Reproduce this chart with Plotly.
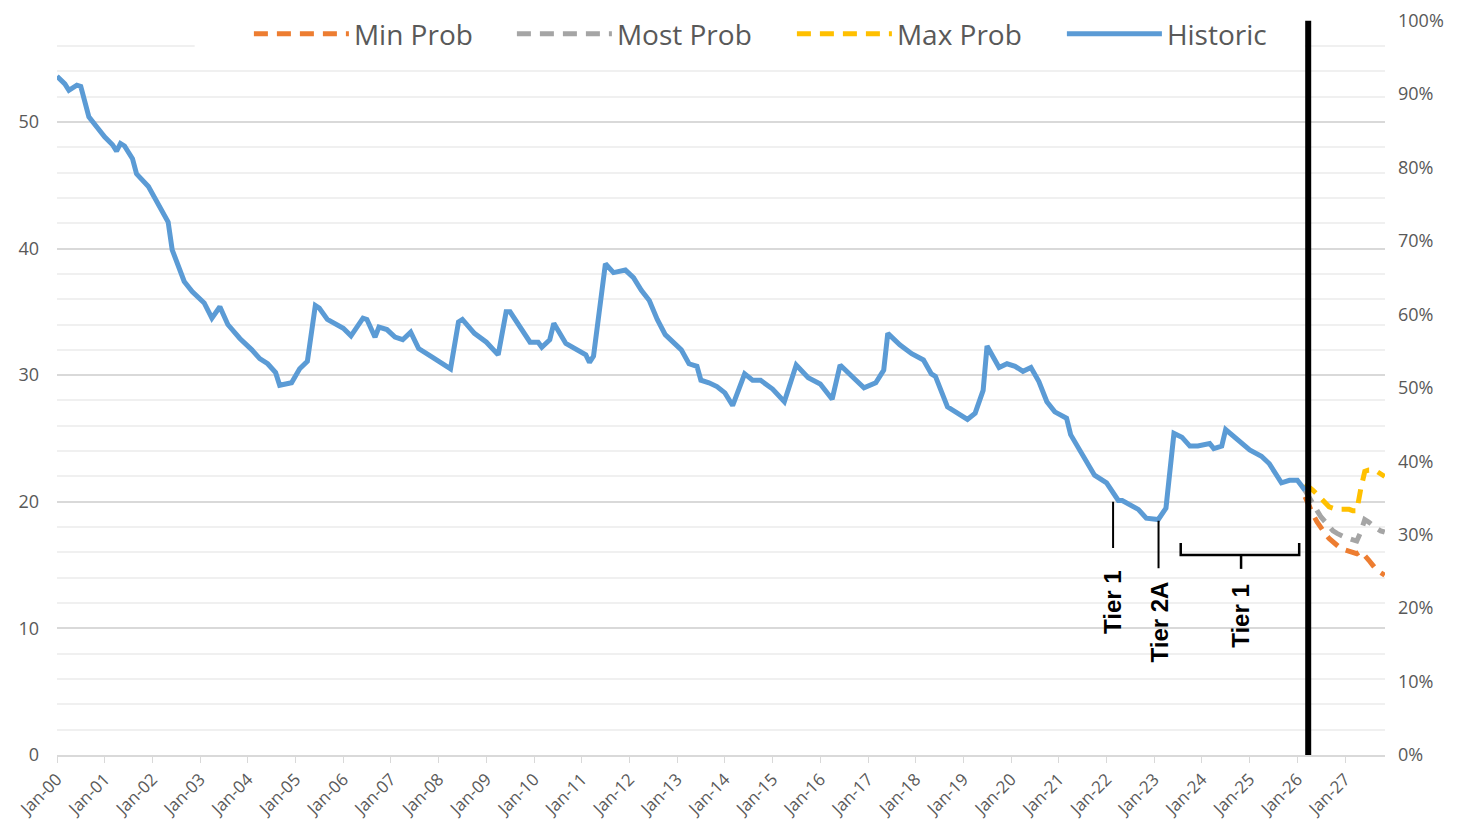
import plotly.graph_objects as go

# ---------------- data ----------------
hist_dates = [
    "2000-01", "2000-03", "2000-04", "2000-06", "2000-07", "2000-08", "2000-09", "2000-11",
    "2001-01", "2001-03", "2001-04", "2001-05", "2001-06", "2001-08", "2001-09", "2001-12",
    "2002-02", "2002-05", "2002-06", "2002-09", "2002-11",
    "2003-02", "2003-04", "2003-06", "2003-08", "2003-11",
    "2004-02", "2004-04", "2004-06", "2004-08", "2004-09", "2004-12",
    "2005-02", "2005-04", "2005-06", "2005-07", "2005-09", "2005-11",
    "2006-01", "2006-03", "2006-06", "2006-07", "2006-09", "2006-10", "2006-12",
    "2007-02", "2007-04", "2007-06", "2007-08", "2007-11",
    "2008-01", "2008-04", "2008-06", "2008-07", "2008-10",
    "2009-01", "2009-04", "2009-06", "2009-07", "2009-09", "2009-12",
    "2010-02", "2010-03", "2010-05", "2010-06", "2010-09", "2010-12",
    "2011-02", "2011-03", "2011-04", "2011-07", "2011-09", "2011-12",
    "2012-02", "2012-04", "2012-06", "2012-08", "2012-10",
    "2013-02", "2013-04", "2013-06", "2013-07", "2013-09", "2013-11",
    "2014-01", "2014-03", "2014-06", "2014-08", "2014-10",
    "2015-01", "2015-04", "2015-07", "2015-10",
    "2016-01", "2016-04", "2016-06", "2016-10", "2016-12",
    "2017-03", "2017-05", "2017-06", "2017-09", "2017-12",
    "2018-03", "2018-05", "2018-06", "2018-09", "2018-12",
    "2019-02", "2019-04", "2019-06", "2019-07", "2019-08", "2019-10", "2019-12",
    "2020-02", "2020-04", "2020-06", "2020-08", "2020-10", "2020-12",
    "2021-03", "2021-04", "2021-07", "2021-10",
    "2022-01", "2022-04", "2022-05", "2022-09", "2022-11",
    "2023-02", "2023-04", "2023-06", "2023-08", "2023-10", "2023-12",
    "2024-03", "2024-04", "2024-06", "2024-07", "2024-10",
    "2025-01", "2025-04", "2025-06", "2025-09", "2025-11",
    "2026-01", "2026-03",
]
hist_values = [
    53.6, 53.0, 52.5, 52.9, 52.8, 51.5, 50.4, 49.6,
    48.8, 48.2, 47.7, 48.3, 48.1, 47.1, 45.9, 44.9,
    43.7, 42.1, 39.9, 37.4, 36.6,
    35.7, 34.5, 35.4, 34.0, 32.9,
    32.0, 31.3, 30.9, 30.2, 29.2, 29.4,
    30.5, 31.1, 35.5, 35.3, 34.4, 34.1,
    33.7, 33.1, 34.5, 34.4, 33.0, 33.8, 33.6,
    33.0, 32.8, 33.4, 32.1, 31.5,
    31.1, 30.5, 34.2, 34.4, 33.3,
    32.6, 31.6, 35.0, 35.0, 34.0, 32.6,
    32.6, 32.2, 32.8, 34.1, 32.5, 32.0,
    31.6, 31.0, 31.5, 38.8, 38.1, 38.3,
    37.7, 36.7, 35.9, 34.4, 33.2,
    32.0, 30.9, 30.7, 29.6, 29.4, 29.1,
    28.6, 27.6, 30.1, 29.6, 29.6,
    28.9, 27.9, 30.8, 29.8,
    29.3, 28.1, 30.8, 29.6, 29.0,
    29.4, 30.4, 33.3, 32.4, 31.7,
    31.2, 30.1, 29.9, 27.5, 26.9,
    26.5, 27.0, 28.8, 32.3, 31.7, 30.6, 30.9,
    30.7, 30.3, 30.6, 29.5, 27.9, 27.1,
    26.6, 25.3, 23.7, 22.1,
    21.5, 20.1, 20.1, 19.4, 18.7,
    18.6, 19.5, 25.4, 25.1, 24.4, 24.4,
    24.6, 24.2, 24.4, 25.7, 24.9,
    24.1, 23.6, 23.0, 21.5, 21.7,
    21.7, 20.9,
]

fc_dates = [
    "2026-03", "2026-04", "2026-05", "2026-06", "2026-07", "2026-08", "2026-09",
    "2026-10", "2026-11", "2026-12", "2027-01", "2027-02", "2027-03", "2027-04",
    "2027-05", "2027-06", "2027-07", "2027-08", "2027-09", "2027-10", "2027-11",
]
min_prob = [20.4, 19.6, 19.0, 18.4, 17.9, 17.5, 17.1, 16.8, 16.5, 16.3, 16.2,
            16.1, 16.0, 15.9, 16.1, 15.8, 15.4, 15.0, 14.6, 14.4, 14.2]
most_prob = [20.9, 20.3, 19.8, 19.3, 18.8, 18.4, 18.0, 17.7, 17.5, 17.3, 17.2,
             17.1, 17.0, 16.9, 17.6, 18.6, 18.4, 18.1, 17.9, 17.7, 17.6]
max_prob = [21.4, 21.2, 20.9, 20.6, 20.3, 19.9, 19.6, 19.5, 19.4, 19.4, 19.4,
            19.4, 19.3, 19.3, 21.0, 22.4, 22.5, 22.5, 22.4, 22.2, 22.0]

y_left_ticks = [0, 10, 20, 30, 40, 50]
y_right_ticks = [0, 0.1, 0.2, 0.3, 0.4, 0.5, 0.6, 0.7, 0.8, 0.9, 1.0]

x_range = ["2000-01-01", "2027-11-03"]
y_max = 58            # value that corresponds to 100 % on the right axis
y_range = [0, y_max + 0.05]
divider_date = "2026-03-25"

# ---------------- styling ----------------
GRAY_TXT = "#595959"
FONT = "Open Sans"
DASH = "14px,9px"

fig = go.Figure()

series = [
    ("Min Prob", min_prob, "#ED7D31", 153),
    ("Most Prob", most_prob, "#A5A5A5", 170),
    ("Max Prob", max_prob, "#FFC000", 160),
]
for name, vals, col, lw in series:
    fig.add_trace(go.Scatter(
        x=fc_dates, y=vals, name=name, mode="lines", legendwidth=lw,
        line=dict(color=col, width=5, dash=DASH),
    ))

fig.add_trace(go.Scatter(
    x=hist_dates, y=hist_values, name="Historic", mode="lines",
    line=dict(color="#5B9BD5", width=5),
))

# invisible trace to activate the right-hand percentage axis
fig.add_trace(go.Scatter(
    x=[x_range[0]], y=[y_right_ticks[0]], yaxis="y2", mode="markers",
    marker=dict(opacity=0), showlegend=False, hoverinfo="skip",
))

# white box behind legend covering the top grid lines (between grid and traces)
fig.add_shape(type="rect", xref="x", yref="y",
              x0="2002-11-20", x1="2026-02-28", y0=55.0, y1=y_range[1] + 0.5,
              fillcolor="white", line=dict(width=0), layer="between")

# vertical divider
fig.add_shape(type="line", xref="x", yref="y",
              x0=divider_date, x1=divider_date, y0=0, y1=y_max,
              line=dict(color="black", width=6), layer="above")

# tier annotations (lines + brace)
ann_line = dict(color="black", width=2)
fig.add_shape(type="line", x0="2022-02-20", x1="2022-02-20", y0=20.0, y1=16.35, line=ann_line)
fig.add_shape(type="line", x0="2023-02-03", x1="2023-02-03", y0=18.5, y1=14.75, line=ann_line)
brace = dict(color="black", width=2.5)
fig.add_shape(type="path",
              path="M 2023-07-23,16.75 L 2023-07-23,15.8 L 2026-01-15,15.8 L 2026-01-15,16.75",
              line=brace)
fig.add_shape(type="line", x0="2024-10-27", x1="2024-10-27", y0=15.8, y1=14.7, line=brace)

tier_font = dict(family="Arial", size=24, color="black")
for txt, xd, yv in [("<b>Tier 1</b>", "2022-02-20", 12.1),
                    ("<b>Tier 2A</b>", "2023-02-10", 10.5),
                    ("<b>Tier 1</b>", "2024-10-27", 11.0)]:
    fig.add_annotation(x=xd, y=yv, text=txt, showarrow=False, textangle=-90,
                       font=tier_font, xanchor="center", yanchor="middle")

fig.update_layout(
    width=1463, height=829,
    margin=dict(l=49, r=86, t=12, b=82, autoexpand=False),
    paper_bgcolor="white", plot_bgcolor="white",
    font=dict(family=FONT, color=GRAY_TXT),
    showlegend=True,
    legend=dict(orientation="h", x=0.1445, xanchor="left", y=0.981, yanchor="middle",
                bgcolor="rgba(0,0,0,0)", font=dict(size=28, color=GRAY_TXT, family=FONT),
                itemwidth=95, traceorder="normal"),
    xaxis=dict(type="date", range=x_range, tickformat="%b-%y", dtick="M12",
               tick0="2000-01-01", tickangle=-45, ticks="outside", ticklen=6,
               tickcolor="#d9d9d9", showline=True, linecolor="#d9d9d9", linewidth=1.5,
               showgrid=False, zeroline=False, automargin=False,
               ticklabeloverflow="allow",
               tickfont=dict(size=17, color=GRAY_TXT, family=FONT)),
    yaxis=dict(range=y_range, tickvals=y_left_ticks, showgrid=True, gridcolor="#d9d9d9",
               gridwidth=1.5, zeroline=False, showline=False, automargin=False,
               minor=dict(dtick=2, tick0=0, showgrid=True, gridcolor="#f0f0f0", gridwidth=1.5),
               ticklabelstandoff=17, ticklabeloverflow="allow",
               tickfont=dict(size=18, color=GRAY_TXT, family=FONT)),
    yaxis2=dict(overlaying="y", side="right", range=[0, y_range[1] / y_max],
                tickvals=y_right_ticks,
                tickformat=".0%", showgrid=False, zeroline=False, showline=False,
                automargin=False, ticklabelstandoff=12, ticklabeloverflow="allow",
                tickfont=dict(size=18, color=GRAY_TXT, family=FONT)),
)

fig.write_html("out.html")
